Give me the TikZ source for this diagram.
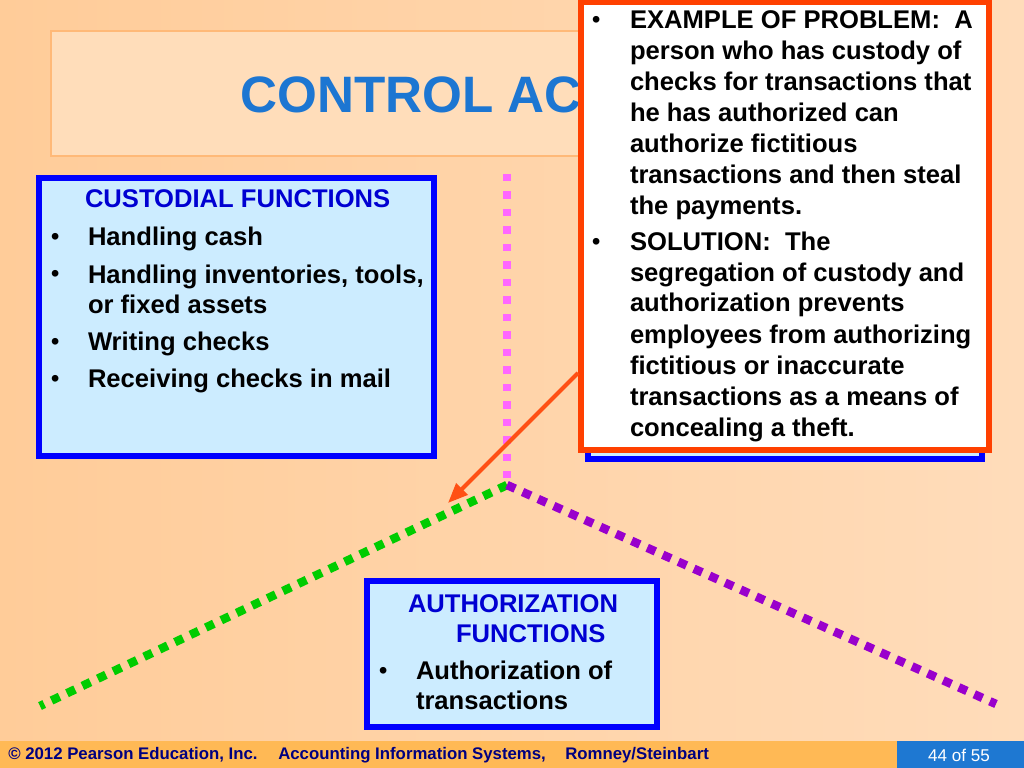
\documentclass[tikz,border=0pt]{standalone}
\usepackage{fontspec}
\setmainfont{Liberation Sans}
\usetikzlibrary{arrows.meta}
\definecolor{bgL}{RGB}{255,204,153}
\definecolor{bgR}{RGB}{255,220,186}
\definecolor{titlefill}{RGB}{255,221,186}
\definecolor{titleedge}{RGB}{255,185,120}
\definecolor{titleblue}{RGB}{28,118,210}
\definecolor{boxblue}{RGB}{0,0,255}
\definecolor{boxfill}{RGB}{204,236,255}
\definecolor{headblue}{RGB}{0,0,210}
\definecolor{calred}{RGB}{255,64,0}
\definecolor{arrred}{RGB}{255,80,20}
\definecolor{pinkdot}{RGB}{255,102,255}
\definecolor{greendot}{RGB}{0,204,0}
\definecolor{purpledot}{RGB}{153,0,204}
\definecolor{footbar}{RGB}{255,185,85}
\definecolor{foottext}{RGB}{0,0,128}
\definecolor{numboxc}{RGB}{30,120,210}
\tikzset{
  bluebox/.style={draw=boxblue, line width=4.4pt, fill=boxfill, inner sep=0pt, outer sep=0pt},
  txt/.style={anchor=base west, inner sep=0pt, outer sep=0pt, font=\fontsize{18}{21}\selectfont\bfseries},
  headtxt/.style={txt, text=headblue},
  bul/.style={anchor=base west, inner sep=0pt, outer sep=0pt, font=\fontsize{16.5}{18}\selectfont\bfseries},
  pinkline/.style={line width=5pt, dash pattern=on 5pt off 7.3pt},
  dotline/.style={line width=6pt, dash pattern=on 6.3pt off 5.7pt},
  foot/.style={anchor=base west, inner sep=0pt, text=foottext, font=\fontsize{11.8}{14}\selectfont\bfseries}
}
\begin{document}
\begin{tikzpicture}[x=0.703125pt, y=-0.703125pt]
\useasboundingbox (0,0) rectangle (1024,768);
% background
\shade[left color=bgL, right color=bgR] (0,0) rectangle (1024,741);
% title box
\node[draw=titleedge, line width=1.5pt, fill=titlefill, inner sep=0pt,
      minimum width=923*0.703125pt, minimum height=125*0.703125pt] (titlebox) at (512.5,93.5) {};
\node[anchor=base west, inner sep=0pt, text=titleblue, font=\fontsize{36}{40}\selectfont\bfseries] (title) at (240,113) {CONTROL AC};
% dotted tree
\coordinate (top) at (507,174);
\coordinate (junc) at (507,485);
\coordinate (gend) at (40,706);
\coordinate (pend) at (996,704);
\draw[pinkline, draw=pinkdot] (top) -- (junc);
\draw[dotline, draw=greendot] (junc) -- (gend);
\draw[dotline, draw=purpledot] (junc) -- (pend);
% left box
\node[bluebox, minimum width=395*0.703125pt, minimum height=278*0.703125pt] (custbox) at (236.5,317) {};
\node[headtxt] (custhead) at (85,208) {CUSTODIAL FUNCTIONS};
\node[bul] (cb1) at (51,245) {•};
\node[txt] (ct1) at (88,246) {Handling cash};
\node[bul] (cb2) at (51,282) {•};
\node[txt] (ct2) at (88,283) {Handling inventories, tools,};
\node[txt] (ct2b) at (88,313) {or fixed assets};
\node[bul] (cb3) at (51,349) {•};
\node[txt] (ct3) at (88,350) {Writing checks};
\node[bul] (cb4) at (51,386) {•};
\node[txt] (ct4) at (88,387) {Receiving checks in mail};
% hidden right box
\node[bluebox, minimum width=394*0.703125pt, minimum height=289*0.703125pt] (recbox) at (785,314.5) {};
% callout
\node[draw=calred, line width=4.4pt, fill=white, inner sep=0pt,
      minimum width=408*0.703125pt, minimum height=448*0.703125pt] (callout) at (785,226) {};
\node[bul] (rb1) at (592,28) {•};
\node[txt] (r1) at (630,29) {EXAMPLE OF PROBLEM:\ \ A};
\node[txt] (r2) at (630,60) {person who has custody of};
\node[txt] (r3) at (630,91) {checks for transactions that};
\node[txt] (r4) at (630,122) {he has authorized can};
\node[txt] (r5) at (630,153) {authorize fictitious};
\node[txt] (r6) at (630,184) {transactions and then steal};
\node[txt] (r7) at (630,215) {the payments.};
\node[bul] (rb2) at (592,250) {•};
\node[txt] (r8) at (630,251) {SOLUTION:\ \ The};
\node[txt] (r9) at (630,281) {segregation of custody and};
\node[txt] (r10) at (630,312) {authorization prevents};
\node[txt] (r11) at (630,343) {employees from authorizing};
\node[txt] (r12) at (630,374) {fictitious or inaccurate};
\node[txt] (r13) at (630,405) {transactions as a means of};
\node[txt] (r14) at (630,436) {concealing a theft.};
% arrow
\coordinate (astart) at (578,373);
\coordinate (atip) at (448,503);
\draw[draw=arrred, line width=2.8pt, -{Triangle[length=14pt, width=11pt]}] (astart) -- (atip);
% authorization box
\node[bluebox, minimum width=290*0.703125pt, minimum height=146*0.703125pt] (authbox) at (512,654) {};
\node[headtxt] (ah1) at (408,612) {AUTHORIZATION};
\node[headtxt] (ah2) at (456,642) {FUNCTIONS};
\node[bul] (ab1) at (379,678) {•};
\node[txt] (at1) at (416,679) {Authorization of};
\node[txt] (at2) at (416,709) {transactions};
% footer
\node[fill=footbar, inner sep=0pt, minimum width=1024*0.703125pt, minimum height=27*0.703125pt] (footbar) at (512,754.5) {};
\node[fill=numboxc, inner sep=0pt, minimum width=127*0.703125pt, minimum height=27*0.703125pt] (numbox) at (960.5,754.5) {};
\node[foot] (f1) at (8,759) {© 2012 Pearson Education, Inc.};
\node[foot] (f2) at (278,759) {Accounting Information Systems,};
\node[foot] (f3) at (565,759) {Romney/Steinbart};
\node[text=white, inner sep=0pt, font=\fontsize{12}{14}\selectfont] (num) at (959,755.5) {44 of 55};
\end{tikzpicture}
\end{document}
